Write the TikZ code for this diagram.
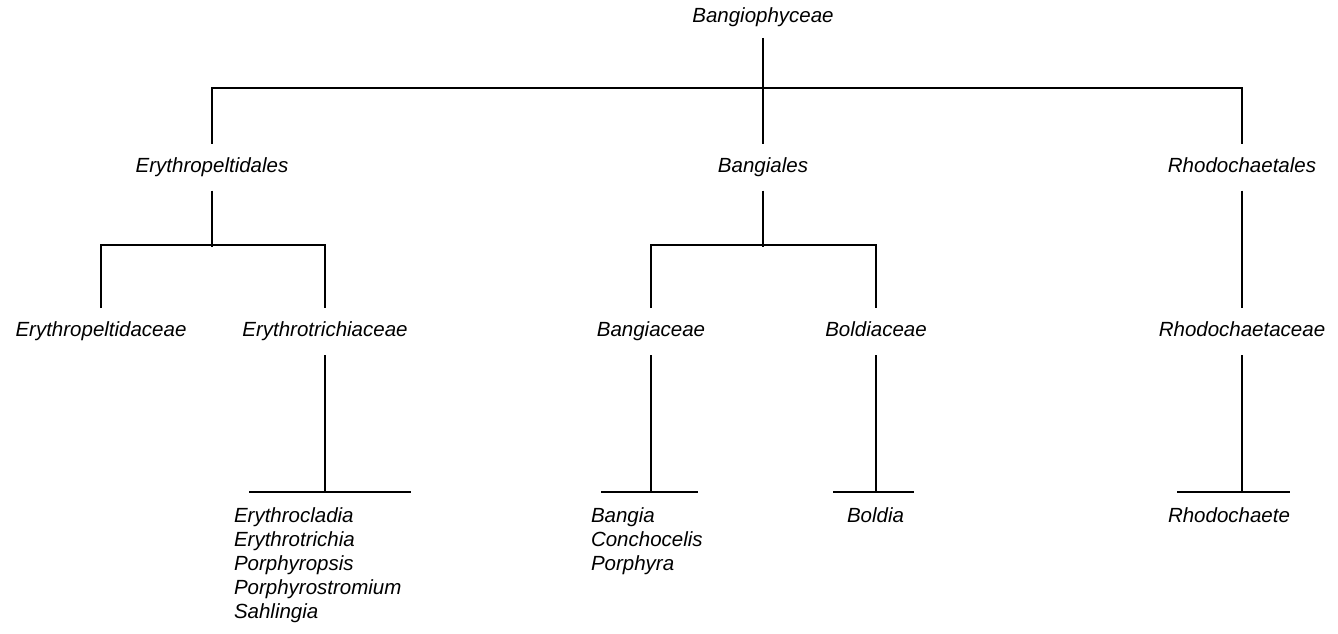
\documentclass[tikz,border=0pt]{standalone}
\usepackage{fontspec}
\setmainfont{Liberation Sans}

\begin{document}
\begin{tikzpicture}[x=1pt,y=-1pt,line width=2pt,
  taxon/.style={font=\fontsize{20.5}{24}\selectfont\itshape,minimum height=45pt,
    text height=14pt,text depth=4pt,inner sep=0pt},
  genera/.style={font=\fontsize{20.5}{24}\selectfont\itshape,align=left,anchor=north west,inner sep=0pt}]
  \useasboundingbox (0,0) rectangle (1338,634);
  % class
  \node[taxon,minimum height=38pt] (root) at (763,18) {Bangiophyceae};
  % orders
  \node[taxon] (erp) at (212,167) {Erythropeltidales};
  \node[taxon] (bangl) at (763,167) {Bangiales};
  \node[taxon] (rhol) at (1242,167) {Rhodochaetales};
  % families
  \node[taxon] (erpf) at (101,331.5) {Erythropeltidaceae};
  \node[taxon] (ertr) at (325,331.5) {Erythrotrichiaceae};
  \node[taxon] (bangf) at (651,331.5) {Bangiaceae};
  \node[taxon] (bold) at (876,331.5) {Boldiaceae};
  \node[taxon] (rhof) at (1242,331.5) {Rhodochaetaceae};
  % genera
  \node[genera] (ertrg) at (233,507) {Erythrocladia\\Erythrotrichia\\Porphyropsis\\Porphyrostromium\\Sahlingia};
  \node[genera] (bangg) at (590,507) {Bangia\\Conchocelis\\Porphyra};
  \node[genera] (boldg) at (846,507) {Boldia};
  \node[genera] (rhog) at (1167,507) {Rhodochaete};

  \draw (root) -- (bangl);
  \draw (erp.north) -- ++(0,-56) -| (rhol.north);
  \draw (erp.south) -- ++(0,56.5);
  \draw (erpf.north) -- ++(0,-63) -| (ertr.north);
  \draw (bangl.south) -- ++(0,56.5);
  \draw (bangf.north) -- ++(0,-63) -| (bold.north);
  \draw (rhol) -- (rhof);
  \foreach \fam/\l/\r in {ertr/76/86,bangf/50/47,bold/43/38,rhof/65/48} {
    \draw (\fam.south) -- ++(0,137) coordinate (\fam-bar);
    \draw (\fam-bar) ++(-\l,0) -- ++(\l+\r,0);
  }
\end{tikzpicture}
\end{document}
